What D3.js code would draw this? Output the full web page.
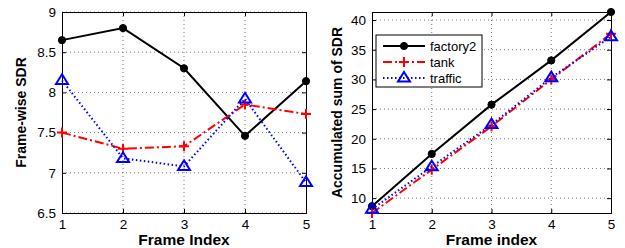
<!DOCTYPE html>
<html>
<head>
<meta charset="utf-8">
<script src="https://cdn.jsdelivr.net/npm/d3@7"></script>
<style>
  body { margin: 0; background: #fff; }
  svg { display: block; font-family: "Liberation Sans", Arial, sans-serif; }
</style>
</head>
<body>
<div id="chart"></div>
<script>
// frame indices
var frames = [1, 2, 3, 4, 5];
var seriesNames = ["factory2", "tank", "traffic"];

// left: frame-wise SDR
var factory2Sdr = [8.65, 8.8, 8.3, 7.46, 8.14];
var tankSdr = [7.5, 7.3, 7.33, 7.85, 7.73];
var trafficSdr = [8.15, 7.18, 7.08, 7.92, 6.88];

// right: accumulated sum of SDR
var factory2Acc = [8.65, 17.45, 25.75, 33.2, 41.35];
var tankAcc = [7.5, 14.8, 22.1, 30.0, 37.7];
var trafficAcc = [8.15, 15.3, 22.4, 30.3, 37.2];

var leftTicks = [6.5, 7, 7.5, 8, 8.5, 9];
var rightTicks = [10, 15, 20, 25, 30, 35, 40];

var width = 625, height = 248;
var svg = d3.select("#chart").append("svg")
  .attr("width", width)
  .attr("height", height);

var styles = {
  factory2: {color: "#000", dash: null, marker: "circle"},
  tank: {color: "#ff0000", dash: "9,3,2,3", marker: "plus"},
  traffic: {color: "#0000ff", dash: "1.5,2.5", marker: "triangle"}
};

function drawMarker(g, type, color, cx, cy) {
  if (type == "circle") {
    g.append("circle").attr("cx", cx).attr("cy", cy).attr("r", 3.6)
      .attr("fill", color).attr("stroke", color);
  } else if (type == "plus") {
    g.append("path")
      .attr("d", "M" + (cx - 5) + "," + cy + "H" + (cx + 5) + "M" + cx + "," + (cy - 5) + "V" + (cy + 5))
      .attr("stroke", color).attr("stroke-width", 2).attr("fill", "none");
  } else {
    var s = 6;
    g.append("path")
      .attr("d", "M" + cx + "," + (cy - s) + "L" + (cx + s) + "," + (cy + s * 0.6) + "L" + (cx - s) + "," + (cy + s * 0.6) + "Z")
      .attr("stroke", color).attr("stroke-width", 2).attr("fill", "none");
  }
}

function panel(opt) {
  var x = d3.scaleLinear().domain([1, 5]).range([opt.left, opt.right]);
  var y = d3.scaleLinear().domain(opt.ydomain).range([opt.bottom, opt.top]);
  var g = svg.append("g");

  // grid
  g.append("g").selectAll("line.gx")
    .data(frames.slice(1, 4)).enter().append("line")
    .attr("x1", function(d){return x(d);}).attr("x2", function(d){return x(d);})
    .attr("y1", opt.top).attr("y2", opt.bottom)
    .attr("stroke", "#555").attr("stroke-width", 0.8).attr("stroke-dasharray", "1,3");
  g.append("g").selectAll("line.gy")
    .data(opt.ticks).enter().append("line")
    .attr("x1", opt.left).attr("x2", opt.right)
    .attr("y1", function(d){return y(d);}).attr("y2", function(d){return y(d);})
    .attr("stroke", "#555").attr("stroke-width", 0.8).attr("stroke-dasharray", "1,3");

  // axes
  g.append("g").attr("transform", "translate(0," + opt.bottom + ")")
    .call(d3.axisBottom(x).tickValues(frames).tickSize(-4).tickPadding(6).tickFormat(d3.format("d")));
  g.append("g").attr("transform", "translate(" + opt.left + ",0)")
    .call(d3.axisLeft(y).tickValues(opt.ticks).tickSize(-4).tickPadding(6).tickFormat(d3.format("")));
  g.append("g").attr("transform", "translate(0," + opt.top + ")")
    .call(d3.axisTop(x).tickValues(frames).tickSize(-4).tickFormat(""));
  g.append("g").attr("transform", "translate(" + opt.right + ",0)")
    .call(d3.axisRight(y).tickValues(opt.ticks).tickSize(-4).tickFormat(""));
  g.selectAll(".domain").attr("stroke", "#000").attr("stroke-width", 1);
  g.selectAll(".tick line").attr("stroke", "#000");
  g.selectAll(".tick text").attr("font-size", 13.5).attr("fill", "#000")
    .attr("font-family", "Liberation Sans, Arial, sans-serif");

  // lines
  opt.data.forEach(function(vals, k) {
    var st = styles[seriesNames[k]];
    var pts = frames.map(function(f, i){ return [f, vals[i]]; });
    g.append("path")
      .attr("fill", "none")
      .attr("stroke", st.color)
      .attr("stroke-width", 2)
      .attr("stroke-dasharray", st.dash)
      .attr("d", d3.line().x(function(d){return x(d[0]);}).y(function(d){return y(d[1]);})(pts));
    var mg = g.append("g");
    pts.forEach(function(p) { drawMarker(mg, st.marker, st.color, x(p[0]), y(p[1])); });
  });

  // labels
  g.append("text")
    .attr("x", (opt.left + opt.right) / 2).attr("y", 245)
    .attr("text-anchor", "middle")
    .attr("font-size", 15.5).attr("font-weight", "bold")
    .text(opt.xtitle);
  g.append("text")
    .attr("transform", "translate(" + opt.ylabelX + "," + ((opt.top + opt.bottom) / 2) + ") rotate(-90)")
    .attr("text-anchor", "middle")
    .attr("font-size", 14).attr("font-weight", "bold")
    .text(opt.ytitle);
  return {x: x, y: y, g: g};
}

panel({left: 62, right: 306, top: 12, bottom: 213,
  ydomain: [6.5, 9], ticks: leftTicks,
  data: [factory2Sdr, tankSdr, trafficSdr],
  xtitle: "Frame Index", ytitle: "Frame-wise SDR", ylabelX: 26});

panel({left: 372, right: 611, top: 12, bottom: 213,
  ydomain: [7.5, 41.35], ticks: rightTicks,
  data: [factory2Acc, tankAcc, trafficAcc],
  xtitle: "Frame index", ytitle: "Accumulated sum of SDR", ylabelX: 342});

// legend
var lg = svg.append("g");
lg.append("rect").attr("x", 376).attr("y", 35).attr("width", 106).attr("height", 52)
  .attr("fill", "#fff").attr("stroke", "#000").attr("stroke-width", 1);
seriesNames.forEach(function(name, i) {
  var st = styles[name];
  var yy = 46 + i * 16;
  lg.append("line").attr("x1", 383).attr("x2", 425).attr("y1", yy).attr("y2", yy)
    .attr("stroke", st.color).attr("stroke-width", 2).attr("stroke-dasharray", st.dash);
  drawMarker(lg, st.marker, st.color, 404, yy);
  lg.append("text").attr("x", 430).attr("y", yy + 4.5)
    .attr("font-size", 13).text(name);
});
</script>
</body>
</html>
